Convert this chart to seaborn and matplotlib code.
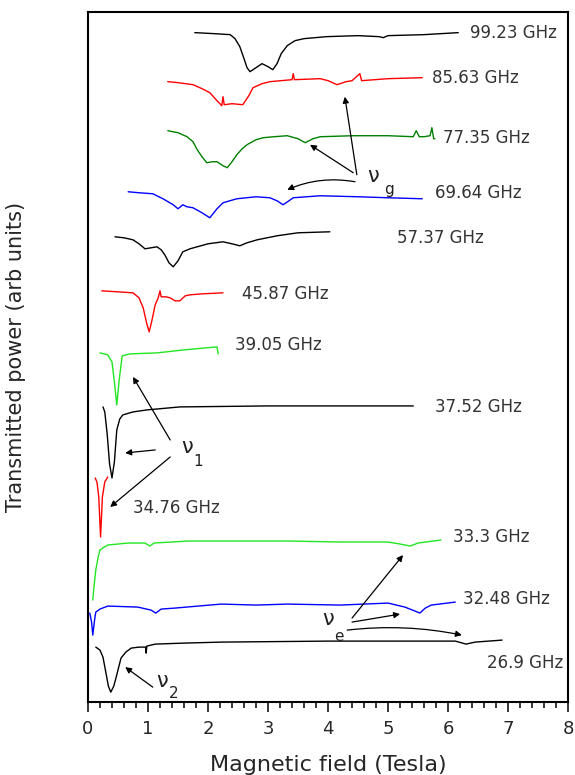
import matplotlib
matplotlib.use('Agg')
import matplotlib.pyplot as plt
import seaborn as sns
import pandas as pd
from matplotlib.ticker import MultipleLocator

# field (Tesla) / transmitted power (arb units, offset)
f_9923 = [1.78, 2.10, 2.37, 2.45, 2.53, 2.60, 2.65, 2.70, 2.80, 2.90, 3.00, 3.08, 3.15, 3.22, 3.32,
          3.45, 3.60, 3.98, 4.50, 4.85, 4.92, 5.00, 5.60, 6.17]
p_9923 = [669, 668, 667, 663, 655, 643, 634, 630, 634, 638, 635, 632, 638, 648, 656,
          661, 663, 665, 666, 665, 664, 666, 667, 669]

f_8563 = [1.33, 1.50, 1.75, 1.90, 2.03, 2.15, 2.23, 2.25, 2.27, 2.40, 2.58, 2.68, 2.75, 2.90, 3.03,
          3.40, 3.42, 3.44, 3.87, 4.00, 4.15, 4.30, 4.40, 4.53, 4.56, 5.00, 5.57]
p_8563 = [620, 619, 617, 613, 609, 601, 596, 605, 597, 598, 597, 606, 614, 618, 620,
          622, 628, 622, 623, 621, 617, 620, 621, 628, 621, 623, 624]

f_7735 = [1.33, 1.50, 1.65, 1.75, 1.82, 1.90, 1.98, 2.07, 2.15, 2.25, 2.32, 2.40, 2.48, 2.57, 2.65,
          2.80, 2.92, 3.10, 3.32, 3.50, 3.62, 3.75, 3.87, 4.42, 5.00, 5.42, 5.47, 5.52, 5.60, 5.70,
          5.73, 5.76, 5.78]
p_7735 = [571, 569, 565, 560, 552, 545, 539, 540, 540, 536, 534, 540, 547, 553, 557,
          562, 564, 565, 566, 563, 559, 563, 565, 566, 566, 565, 571, 565, 565, 566,
          574, 563, 563]

f_6964 = [0.67, 0.85, 1.08, 1.25, 1.42, 1.50, 1.58, 1.65, 1.75, 1.90, 2.03, 2.15, 2.25, 2.48, 2.80,
          3.03, 3.15, 3.25, 3.35, 3.42, 3.87, 4.50, 5.00, 5.57]
p_6964 = [510, 509, 508, 503, 497, 493, 497, 495, 494, 489, 484, 493, 499, 503, 505,
          504, 501, 497, 501, 504, 506, 505, 504, 503]

f_5737 = [0.45, 0.60, 0.75, 0.85, 0.95, 1.05, 1.15, 1.22, 1.28, 1.35, 1.42, 1.50, 1.58, 1.70, 1.82,
          2.00, 2.25, 2.40, 2.53, 2.65, 2.82, 3.15, 3.50, 4.03]
p_5737 = [465, 464, 462, 458, 453, 454, 455, 452, 447, 439, 435, 441, 450, 453, 455,
          458, 460, 458, 456, 459, 462, 466, 469, 470]

f_4587 = [0.23, 0.50, 0.75, 0.85, 0.92, 0.98, 1.02, 1.06, 1.12, 1.17, 1.20, 1.22, 1.30, 1.37, 1.45,
          1.53, 1.62, 1.70, 1.90, 2.25]
p_4587 = [411, 410, 409, 404, 394, 378, 370, 380, 397, 404, 411, 405, 405, 404, 401,
          401, 406, 407, 408, 409]

f_3905 = [0.20, 0.33, 0.40, 0.44, 0.48, 0.52, 0.57, 0.70, 1.15, 1.60, 2.15, 2.17]
p_3905 = [349, 347, 340, 320, 297, 322, 346, 348, 349, 352, 355, 348]

f_3752 = [0.25, 0.28, 0.32, 0.36, 0.40, 0.44, 0.48, 0.53, 0.58, 0.75, 0.98, 1.53, 3.00, 5.42]
p_3752 = [295, 290, 268, 238, 224, 240, 272, 283, 287, 290, 292, 295, 296, 296]

f_3476 = [0.12, 0.15, 0.18, 0.21, 0.24, 0.28, 0.33]
p_3476 = [224, 220, 205, 165, 205, 220, 225]

f_3330 = [0.08, 0.10, 0.13, 0.17, 0.20, 0.27, 0.33, 0.67, 0.95, 1.03, 1.10, 1.67, 2.50, 3.33, 4.20,
          5.00, 5.20, 5.37, 5.50, 5.88]
p_3330 = [102, 115, 132, 145, 152, 155, 157, 159, 159, 156, 159, 161, 161, 161, 160,
          160, 158, 156, 159, 162]

f_3248 = [0.03, 0.06, 0.08, 0.11, 0.13, 0.20, 0.33, 0.83, 1.05, 1.13, 1.22, 1.45, 2.22, 2.80, 3.33,
          4.20, 5.00, 5.28, 5.45, 5.53, 5.62, 5.72, 6.12]
p_3248 = [89, 80, 67, 82, 90, 93, 96, 95, 92, 89, 93, 94, 98, 97, 98,
          97, 99, 95, 91, 89, 94, 97, 100]

f_2690 = [0.13, 0.20, 0.25, 0.30, 0.34, 0.38, 0.43, 0.47, 0.55, 0.63, 0.72, 0.85, 0.96, 0.97, 0.98,
          1.12, 1.60, 2.22, 4.00, 6.12, 6.30, 6.45, 6.90]
p_2690 = [55, 52, 45, 29, 16, 10, 16, 25, 44, 50, 54, 55, 55, 49, 56,
          58, 59, 60, 61, 61, 58, 60, 62]

freq_labels = ['99.23 GHz', '85.63 GHz', '77.35 GHz', '69.64 GHz', '57.37 GHz', '45.87 GHz',
               '39.05 GHz', '37.52 GHz', '34.76 GHz', '33.3 GHz', '32.48 GHz', '26.9 GHz']

traces = [
    (f_9923, p_9923, 'black'),
    (f_8563, p_8563, '#ff0000'),
    (f_7735, p_7735, '#008000'),
    (f_6964, p_6964, '#0000ff'),
    (f_5737, p_5737, 'black'),
    (f_4587, p_4587, '#ff0000'),
    (f_3905, p_3905, '#22e622'),
    (f_3752, p_3752, 'black'),
    (f_3476, p_3476, '#ff0000'),
    (f_3330, p_3330, '#22e622'),
    (f_3248, p_3248, '#0000ff'),
    (f_2690, p_2690, 'black'),
]

# where each frequency label sits (field, power)
label_pos = [(6.37, 669), (5.73, 624), (5.92, 564), (5.78, 509), (5.15, 464), (2.57, 408),
             (2.45, 357), (5.78, 295), (0.75, 194), (6.08, 165), (6.25, 103), (6.65, 39)]

sns.set_style('ticks')
plt.rcParams['font.family'] = ['DejaVu Sans']

fig = plt.figure(figsize=(5.75, 7.75), dpi=100)
ax = fig.add_axes([0.153, 0.094, 0.835, 0.891])

for (f, p, c), lab, (lx, ly) in zip(traces, freq_labels, label_pos):
    df = pd.DataFrame({'field': f, 'power': p})
    sns.lineplot(data=df, x='field', y='power', color=c, lw=1.0, sort=False,
                 estimator=None, ax=ax)
    ax.text(lx, ly, lab, fontsize=12, color='#333333', ha='left', va='center')

def arrow(tail, head, rad=0.0):
    ax.annotate('', xy=head, xytext=tail,
                arrowprops=dict(arrowstyle='-|>', color='black', lw=0.9, mutation_scale=9,
                                shrinkA=0, shrinkB=0,
                                connectionstyle=f'arc3,rad={rad}'))

def nu(x, y, sub, sx, sy):
    ax.text(x, y, '\u03bd', fontsize=15, color='#222222', ha='center', va='center')
    ax.text(sx, sy, sub, fontsize=11, color='#222222', ha='center', va='center')

# nu_g
arrow((4.48, 527), (4.28, 605))
arrow((4.42, 529), (3.70, 557))
arrow((4.45, 520), (3.32, 512), rad=0.15)
nu(4.75, 526, 'g', 5.02, 512)

# nu_1
arrow((1.37, 262), (0.75, 325))
arrow((1.12, 252), (0.62, 249))
arrow((1.37, 245), (0.37, 195))
nu(1.65, 255, '1', 1.84, 240)

# nu_e
arrow((4.40, 84), (5.25, 147))
arrow((4.40, 80), (5.20, 88))
arrow((4.32, 72), (6.23, 67), rad=-0.08)
nu(4.00, 83, 'e', 4.18, 66)

# nu_2
arrow((1.08, 15), (0.62, 35))
nu(1.23, 21, '2', 1.42, 9)

ax.set_xlim(0, 8)
ax.set_ylim(0, 690)
ax.xaxis.set_major_locator(MultipleLocator(1))
ax.xaxis.set_minor_locator(MultipleLocator(0.2))
ax.set_yticks([])
ax.tick_params(axis='x', which='major', direction='out', length=7, width=1.3,
               labelsize=13, pad=6)
ax.tick_params(axis='x', which='minor', direction='out', length=4, width=1.3)
for s in ax.spines.values():
    s.set_linewidth(1.5)
    s.set_color('black')

ax.set_xlabel('Magnetic field (Tesla)', fontsize=16, labelpad=12)
ax.set_ylabel('Transmitted power (arb units)', fontsize=15)
ax.yaxis.set_label_coords(-0.13, 0.5)

fig.savefig('out.png', dpi=100)
